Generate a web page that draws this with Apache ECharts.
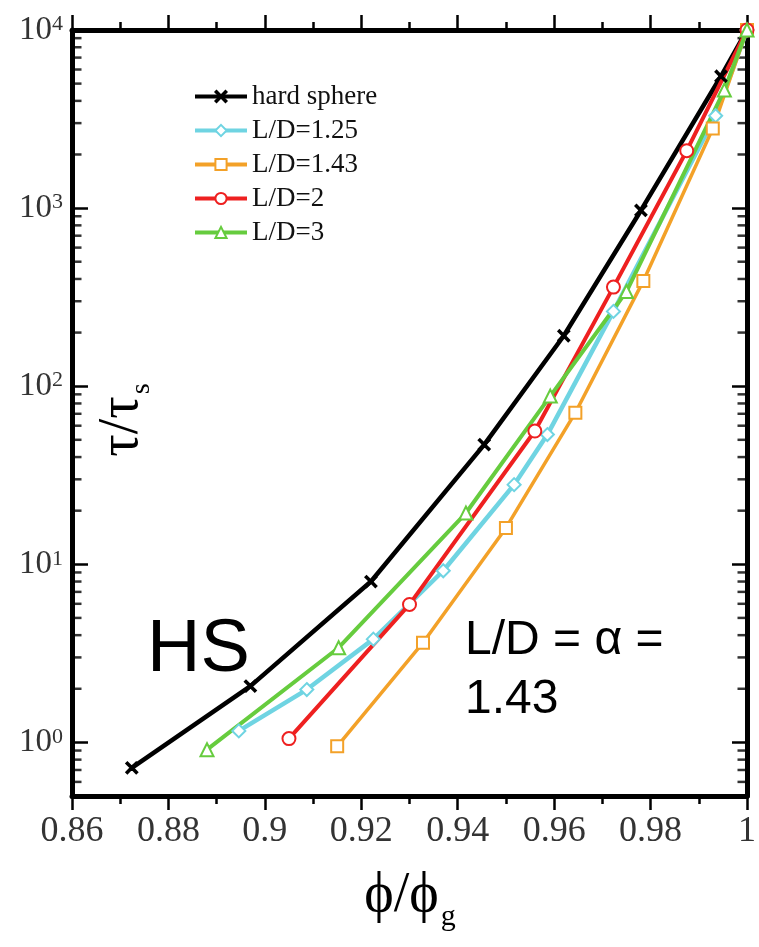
<!DOCTYPE html>
<html>
<head>
<meta charset="utf-8">
<script src="https://cdn.jsdelivr.net/npm/echarts@6/dist/echarts.min.js"></script>
<style>html,body{margin:0;padding:0;background:#fff;}#chart{width:759px;height:947px;}</style>
</head>
<body>
<div id="chart"></div>
<script>
// ---- data ----
const seriesNames = ['hard sphere', 'L/D=1.25', 'L/D=1.43', 'L/D=2', 'L/D=3'];
const hsX = [0.8724, 0.897, 0.922, 0.9455, 0.962, 0.978, 0.9946, 1.0];
const hsY = [0.72, 2.07, 8.0, 47, 192, 970, 5500, 10000];
const ld125X = [0.8946, 0.9087, 0.9225, 0.937, 0.9517, 0.9586, 0.9723, 0.9935, 1.0];
const ld125Y = [1.16, 1.98, 3.8, 9.2, 28, 53.5, 263, 3300, 10000];
const ld143X = [0.915, 0.9328, 0.95, 0.9644, 0.9785, 0.9929, 1.0];
const ld143Y = [0.95, 3.63, 16, 71, 390, 2800, 10000];
const ld2X = [0.905, 0.930, 0.956, 0.9723, 0.9875, 1.0];
const ld2Y = [1.05, 5.95, 56, 360, 2100, 10000];
const ld3X = [0.888, 0.9153, 0.9417, 0.9592, 0.975, 0.9953, 1.0];
const ld3Y = [0.91, 3.4, 19.4, 88, 340, 4600, 10000];
const xTickLabels = ['0.86', '0.88', '0.9', '0.92', '0.94', '0.96', '0.98', '1'];
const yDecades = [0, 1, 2, 3, 4];
const minorMultipliers = [2, 3, 4, 5, 6, 7, 8, 9];

const pairs = (xs, ys) => xs.map((x, i) => [x, ys[i]]);

// log-spaced minor ticks for the y axes
const minorVals = [0.6, 0.7, 0.8, 0.9];
yDecades.slice(0, 4).forEach(d => minorMultipliers.forEach(m => minorVals.push(m * Math.pow(10, d))));

const crossPath = 'path://M0,1 L1,0 L5,4 L9,0 L10,1 L6,5 L10,9 L9,10 L5,6 L1,10 L0,9 L4,5 Z';
const serif = '"Liberation Serif", "DejaVu Serif", serif';
const sans = '"Liberation Sans", Arial, sans-serif';

function lineSeries(name, data, color, symbol, size, width) {
  return {
    name, type: 'line', data, symbol, symbolSize: size,
    lineStyle: { color, width: width },
    itemStyle: { color, borderColor: color, borderWidth: 2 },
    emphasis: { disabled: true },
    clip: false, z: 3
  };
}

const chart = echarts.init(document.getElementById('chart'));
chart.setOption({
  animation: false,
  backgroundColor: '#fff',
  grid: { left: 72, right: 8, top: 30, bottom: 151 },
  legend: {
    data: seriesNames,
    orient: 'vertical', left: 188, top: 78,
    itemWidth: 52, itemHeight: 14, itemGap: 7,
    lineStyle: { width: 4 },
    textStyle: { fontFamily: serif, fontSize: 27, color: '#111', lineHeight: 26 }
  },
  xAxis: [{
    type: 'value', min: 0.86, max: 1.0, interval: 0.02, position: 'bottom',
    axisLine: { lineStyle: { color: '#000', width: 5 } },
    axisTick: { inside: false, length: 14, lineStyle: { color: '#000', width: 2.5 } },
    minorTick: { show: true, splitNumber: 2, length: 8, lineStyle: { color: '#000', width: 2.5 } },
    splitLine: { show: false },
    axisLabel: {
      margin: 18, fontFamily: serif, fontSize: 36, color: '#333',
      formatter: v => xTickLabels[Math.round((v - 0.86) / 0.02)]
    }
  }, {
    type: 'value', min: 0.86, max: 1.0, interval: 0.02, position: 'top',
    axisLine: { lineStyle: { color: '#000', width: 5 } },
    axisTick: { inside: false, length: 15, lineStyle: { color: '#000', width: 2.5 } },
    minorTick: { show: true, splitNumber: 2, length: 8, lineStyle: { color: '#000', width: 2.5 } },
    splitLine: { show: false },
    axisLabel: { show: false }
  }],
  yAxis: [{
    type: 'log', logBase: 10, min: 0.5, max: 10000, position: 'left',
    axisLine: { show: true, lineStyle: { color: '#000', width: 5 } },
    axisTick: { show: true, inside: true, length: 16, lineStyle: { color: '#000', width: 2.5 } },
    splitLine: { show: false },
    axisLabel: {
      margin: 9, color: '#333',
      formatter: v => {
        const l = Math.log10(v);
        if (Math.abs(l - Math.round(l)) > 1e-6) return '';
        return '{b|10}{s|' + Math.round(l) + '}';
      },
      rich: {
        b: { fontFamily: serif, fontSize: 33, color: '#333' },
        s: { fontFamily: serif, fontSize: 22, color: '#333', verticalAlign: 'top' }
      }
    }
  }, {
    type: 'log', logBase: 10, min: 0.5, max: 10000, position: 'right',
    axisLine: { show: true, lineStyle: { color: '#000', width: 5 } },
    axisTick: { show: true, inside: true, length: 15, lineStyle: { color: '#000', width: 2.5 } },
    splitLine: { show: false },
    axisLabel: { show: false }
  }],
  series: [
    lineSeries('hard sphere', pairs(hsX, hsY), '#000000', crossPath, 11, 4.5),
    lineSeries('L/D=1.25', pairs(ld125X, ld125Y), '#6fd4e2', 'emptyDiamond', 13, 4.5),
    lineSeries('L/D=1.43', pairs(ld143X, ld143Y), '#f3a128', 'emptyRect', 12, 3.5),
    lineSeries('L/D=2', pairs(ld2X, ld2Y), '#ee2020', 'emptyCircle', 13, 4),
    lineSeries('L/D=3', pairs(ld3X, ld3Y), '#66cc3e', 'emptyTriangle', 13, 4),
    {
      name: 'minorLeft', type: 'scatter', silent: true, clip: false, z: 1,
      data: minorVals.map(v => [0.86, v]),
      symbol: 'rect', symbolSize: [9, 2.5], symbolOffset: [5, 0],
      itemStyle: { color: '#000' }
    },
    {
      name: 'minorRight', type: 'scatter', silent: true, clip: false, z: 1,
      data: minorVals.map(v => [1.0, v]),
      symbol: 'rect', symbolSize: [9, 2.5], symbolOffset: [-5, 0],
      itemStyle: { color: '#000' }
    }
  ],
  graphic: [
    { type: 'text', x: 147, y: 651, style: { text: 'HS', font: '74px ' + sans, fill: '#000', align: 'left', verticalAlign: 'middle' } },
    { type: 'text', x: 465, y: 641, style: { text: 'L/D = α =', font: '48px ' + sans, fill: '#000', align: 'left', verticalAlign: 'middle' } },
    { type: 'text', x: 465, y: 700, style: { text: '1.43', font: '48px ' + sans, fill: '#000', align: 'left', verticalAlign: 'middle' } },
    { type: 'text', x: 122, y: 420, rotation: Math.PI / 2,
      style: { text: '{t|τ/τ}{s|s}', align: 'center', verticalAlign: 'middle',
        rich: { t: { fontFamily: serif, fontSize: 56, fill: '#000' },
                s: { fontFamily: serif, fontSize: 28, fill: '#000', verticalAlign: 'bottom', padding: [0, 0, -6, 2] } } } },
    { type: 'text', x: 410, y: 896,
      style: { text: '{t|ϕ/ϕ}{s|g}', align: 'center', verticalAlign: 'middle',
        rich: { t: { fontFamily: serif, fontSize: 56, fill: '#000' },
                s: { fontFamily: serif, fontSize: 30, fill: '#000', verticalAlign: 'bottom', padding: [0, 0, -8, 2] } } } }
  ]
});
</script>
</body>
</html>
